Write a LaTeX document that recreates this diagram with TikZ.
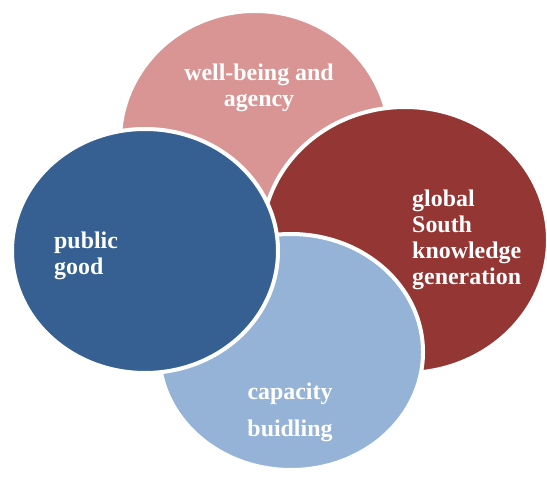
\documentclass[tikz,border=0pt]{standalone}
\usepackage{fontspec}
\setmainfont{Liberation Serif}
\usetikzlibrary{positioning}

\definecolor{pinkrose}{HTML}{D99594}
\definecolor{darkred}{HTML}{943634}
\definecolor{paleblue}{HTML}{95B3D7}
\definecolor{deepblue}{HTML}{366092}

\tikzset{
  blob/.style={draw=white,line width=4bp},
  label/.style={text=white,font=\bfseries\fontsize{24}{26}\selectfont,inner sep=0pt}
}

\begin{document}
\begin{tikzpicture}[x=1bp,y=-1bp]
\useasboundingbox (0,0) rectangle (547,477);
\filldraw[blob,fill=pinkrose] (255,141) ellipse (135 and 130);
\filldraw[blob,fill=darkred] (405,240) ellipse (143 and 133);
\filldraw[blob,fill=paleblue] (291,352) ellipse (132 and 118);
\filldraw[blob,fill=deepblue] (145,251) ellipse (133 and 122);

\node[label,align=center] (wellbeing) at (259,88) {well-being and\\agency};
\node[label,align=left,anchor=west] (public) at (54,256) {public\\good};
\node[label,align=left,anchor=west] (south) at (412,240) {global\\South\\knowledge\\generation};
\node[label,align=center,font=\bfseries\fontsize{24}{37}\selectfont] (capacity) at (290,412) {capacity\\buidling};
\end{tikzpicture}
\end{document}
